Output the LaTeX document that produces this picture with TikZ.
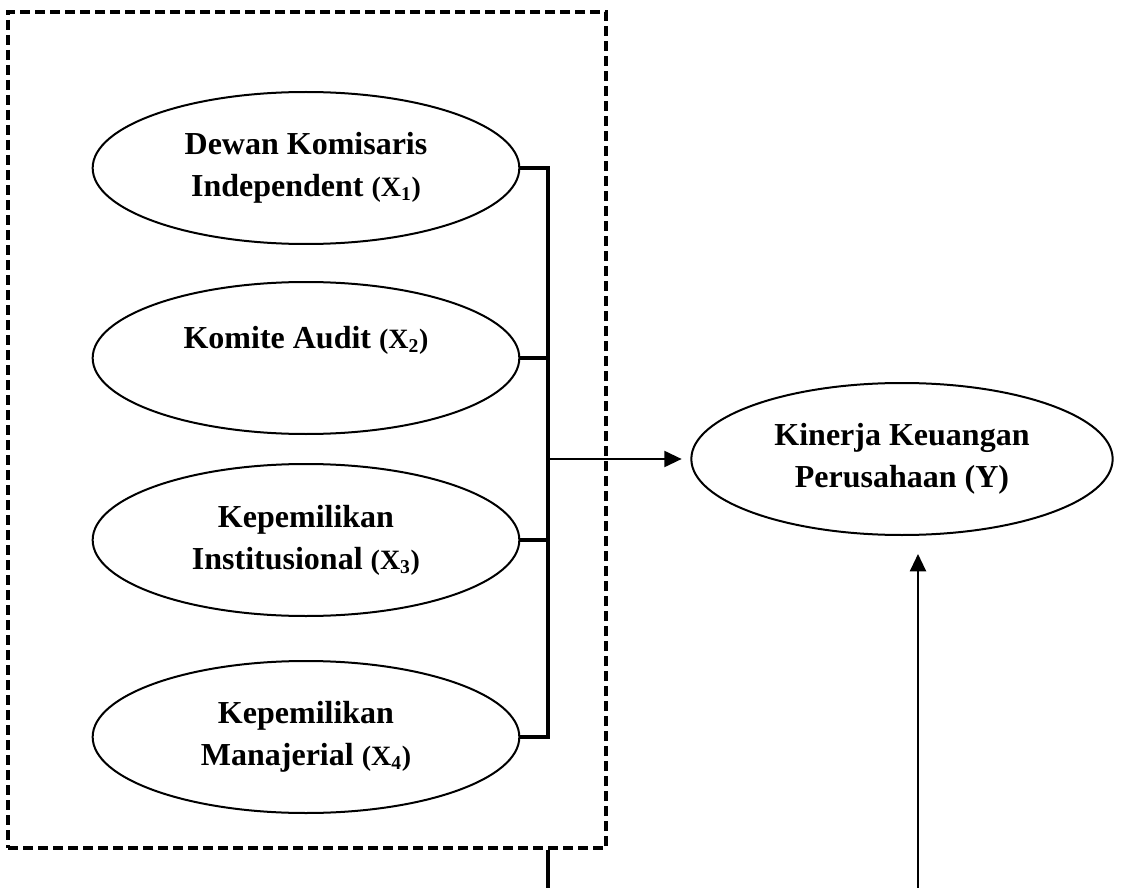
\documentclass[tikz,border=0pt]{standalone}
\usepackage{fontspec}
\setmainfont{Liberation Serif}
\usetikzlibrary{shapes.geometric,arrows.meta}
\newcommand{\varx}[1]{{\fontsize{21}{31.5}\selectfont(X\textsubscript{#1})}}
\begin{document}
\begin{tikzpicture}[x=0.75pt,y=-0.75pt,
  oval/.style={draw, ellipse, line width=1.5pt, inner sep=0pt, align=center,
    minimum width=320pt, minimum height=114pt,
    font=\fontsize{24}{31.5}\selectfont\bfseries},
  bracket/.style={line width=2.6pt},
  arr/.style={line width=1.6pt, -{Triangle[length=13pt,width=12pt]}},
  dashbox/.style={draw, line width=2.6pt, dash pattern=on 7.5pt off 3.75pt, inner sep=0pt,
    minimum width=448.5pt, minimum height=627pt}]
\useasboundingbox (0,0) rectangle (1125,888);

\node[dashbox] (box) at (307,430) {};

\node[oval] (e1) at (306,168) {Dewan Komisaris\\ Independent \varx{1}};
\node[oval] (e2) at (306,358) {Komite Audit \varx{2}\\ ~};
\node[oval] (e3) at (306,540) {Kepemilikan\\ Institusional \varx{3}};
\node[oval] (e4) at (306,737) {Kepemilikan\\ Manajerial \varx{4}};
\node[oval, minimum width=316pt] (y) at (902,459) {Kinerja Keuangan\\ Perusahaan (Y)};

\coordinate (bx) at (548,0);
\coordinate (j) at (548,459);
\coordinate (bl) at (548,888);
\coordinate (br) at (918,888);

\draw[bracket] (e1.east) -- (e1.east -| bx) -- (e4.east -| bx) -- (e4.east);
\draw[bracket] (e2.east) -- (e2.east -| bx);
\draw[bracket] (e3.east) -- (e3.east -| bx);
\draw[arr, shorten >=6.5pt] (j) -- (y.west);
\draw[bracket] (box.south -| bl) -- (bl);
\draw[arr, shorten >=13.5pt] (br) -- (br |- y.south);
\end{tikzpicture}
\end{document}
